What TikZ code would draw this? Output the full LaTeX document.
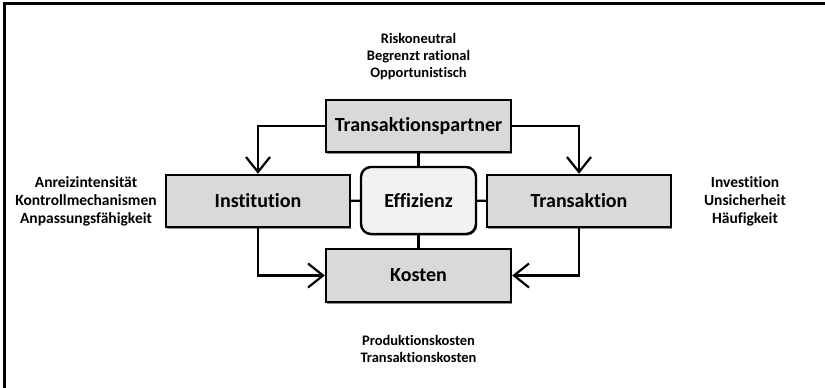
\documentclass[tikz,border=0pt]{standalone}
\usepackage{fontspec}
\setmainfont{Carlito}[Ligatures={NoCommon,NoContextual}]
\usetikzlibrary{arrows.meta,shadows}
\begin{document}
\begin{tikzpicture}[x=1pt,y=-1pt,
  box/.style={draw=black,line width=2.4pt,fill=black!15,
    minimum width=185pt,minimum height=52pt,inner sep=0pt,
    font=\fontsize{20}{24}\selectfont\bfseries,
    drop shadow={shadow xshift=1.2pt,shadow yshift=-1.6pt,fill=black!45,opacity=1}},
  hub/.style={box,fill=black!5,minimum width=115pt,minimum height=67pt,rounded corners=10pt},
  note/.style={align=center,inner sep=0pt,font=\fontsize{15.5}{18}\selectfont\bfseries},
  link/.style={line width=2.2pt},
  arr/.style={line width=2.2pt,-{Straight Barb[length=15pt,width=24pt,line width=2.2pt]}}]
\useasboundingbox (0,0) rectangle (825,388);
% outer frame
\draw[line width=3pt] (4,388) -- (4,3.5) -- (825,3.5);

% boxes
\node[box] (tp) at (418.5,126) {Transaktionspartner};
\node[box,minimum width=184pt] (inst) at (258,201) {Institution};
\node[hub] (eff) at (418.5,200.5) {Effizienz};
\node[box,minimum width=184pt] (tra) at (579,201) {Transaktion};
\node[box,minimum height=53pt] (kos) at (418.5,275.5) {Kosten};

% annotations
\node[note,font=\fontsize{14.5}{17}\selectfont\bfseries] (ntp) at (418.5,57) {Riskoneutral\\Begrenzt rational\\Opportunistisch};
\node[note] (ninst) at (86,201) {Anreizintensität\\Kontrollmechanismen\\Anpassungsfähigkeit};
\node[note] (ntra) at (745,201) {Investition\\Unsicherheit\\Häufigkeit};
\node[note,font=\fontsize{14.5}{17}\selectfont\bfseries] (nkos) at (418.5,349) {Produktionskosten\\Transaktionskosten};

% connectors
\draw[link] (tp) -- (eff);
\draw[link] (eff) -- (kos);
\draw[link] (inst) -- (eff);
\draw[link] (eff) -- (tra);
\draw[arr] (tp.west) -| (inst.north);
\draw[arr] (tp.east) -| (tra.north);
\draw[arr] (inst.south) |- (kos.west);
\draw[arr] (tra.south) |- (kos.east);
\end{tikzpicture}
\end{document}
